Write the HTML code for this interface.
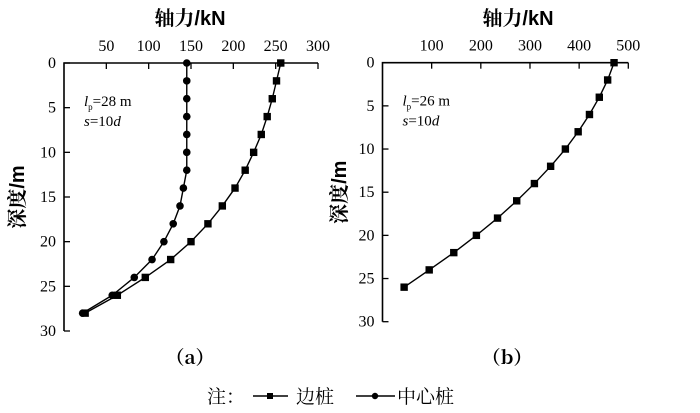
<!DOCTYPE html>
<html><head><meta charset="utf-8">
<style>
html,body{margin:0;padding:0;background:#fff;}
svg text{font-family:"Liberation Serif","Noto Serif CJK SC",serif;fill:#000;}
.cjk{font-family:"Liberation Sans","Noto Serif CJK SC",serif;font-weight:bold;}
.cjkn{font-family:"Noto Serif CJK SC",serif;}
</style></head>
<body>
<svg id="chart" width="700" height="408" viewBox="0 0 700 408" xmlns="http://www.w3.org/2000/svg">
  <g id="pa"></g>
  <g id="pb"></g>
  <text x="190" y="364" font-size="19" text-anchor="middle" class="cjkn" font-weight="bold">（a）</text>
  <text x="507" y="364" font-size="19" text-anchor="middle" class="cjkn" font-weight="bold">（b）</text>
  <g>
    <text x="207" y="403" font-size="19" class="cjkn">注：</text>
    <g>
      <line x1="253" y1="396" x2="288" y2="396" stroke="#000" stroke-width="1.5"/>
      <rect x="267" y="393" width="6" height="6" fill="#000"/>
      <text x="296" y="403" font-size="19" class="cjkn">边桩</text>
    </g>
    <g>
      <line x1="356" y1="396" x2="395" y2="396" stroke="#000" stroke-width="1.5"/>
      <circle cx="375" cy="396" r="3.2" fill="#000"/>
      <text x="397" y="403" font-size="19" class="cjkn">中心桩</text>
    </g>
  </g>
</svg>
<script>
const depthsA = [0,2,4,6,8,10,12,14,16,18,20,22,24,26,28];
const edgeA = [256,251,246,240,233,224,214,202,187,170,150,126,96,63,25];
const centerA = [145,145,145,145,145,145,145,141,137,129,118,104,83,57,22];
const xTicksA = [50,100,150,200,250,300];
const yTicks = [0,5,10,15,20,25,30];
const depthsB = [0,2,4,6,8,10,12,14,16,18,20,22,24,26];
const edgeB = [471,458,441,421,398,372,342,309,273,234,191,145,95,44];
const xTicksB = [100,200,300,400,500];

const NS='http://www.w3.org/2000/svg';
function mk(tag,attrs,parent){const e=document.createElementNS(NS,tag);for(const k in attrs)e.setAttribute(k,attrs[k]);parent.appendChild(e);return e;}

function panel(g,cfg){
  const X=v=>cfg.x0+(v-cfg.xmin)/(cfg.xmax-cfg.xmin)*(cfg.x1-cfg.x0);
  const Y=v=>cfg.y0+v/30*(cfg.y1-cfg.y0);
  const ax=mk('path',{d:`M${cfg.x0},${cfg.y1}V${cfg.y0}H${cfg.x1}`,fill:'none',stroke:'#000','stroke-width':1.6},g);
  
  
  cfg.xt.forEach(t=>{
    const l=mk('line',{x1:X(t),x2:X(t),y1:cfg.y0,y2:cfg.y0+6,stroke:'#000','stroke-width':1.3},g);
    
    
    const tx=mk('text',{x:X(t),y:cfg.y0-12,'font-size':16,'text-anchor':'middle'},g);
    tx.textContent=t;
    
    
  });
  yTicks.forEach(t=>{
    const l=mk('line',{x1:cfg.x0,x2:cfg.x0+6,y1:Y(t),y2:Y(t),stroke:'#000','stroke-width':1.3},g);
    
    
    const tx=mk('text',{x:cfg.x0-8,y:Y(t)+5,'font-size':16,'text-anchor':'end'},g);
    tx.textContent=t;
    
    
  });
  const tt=mk('text',{x:cfg.tx,y:25,'font-size':20,'text-anchor':'middle',class:'cjk'},g);
  tt.textContent='轴力/kN';
  
  
  const yt=mk('text',{x:0,y:0,'font-size':20,'text-anchor':'middle',class:'cjk',transform:`translate(${cfg.yx},${(cfg.y0+cfg.y1)/2}) rotate(-90)`},g);
  yt.textContent='深度/m';
  
  
  const an=mk('text',{x:cfg.x0+20,y:cfg.y0+43,'font-size':15},g);
  an.innerHTML=`<tspan font-style="italic">l</tspan><tspan font-size="9" dy="4">p</tspan><tspan dy="-4">=${cfg.lp} m</tspan>`;
  
  
  const an2=mk('text',{x:cfg.x0+20,y:cfg.y0+63,'font-size':15},g);
  an2.innerHTML='<tspan font-style="italic">s</tspan>=10<tspan font-style="italic">d</tspan>';
  
  
  cfg.series.forEach(s=>{
    const pts=s.vals.map((v,i)=>[X(v),Y(s.depths[i])]);
    const pl=mk('polyline',{points:pts.map(p=>p.join(',')).join(' '),fill:'none',stroke:'#000','stroke-width':1.4},g);
    
    
    pts.forEach(p=>{
      let m;
      if(s.marker==='circle') m=mk('circle',{cx:p[0],cy:p[1],r:3.8,fill:'#000'},g);
      else m=mk('rect',{x:p[0]-3.7,y:p[1]-3.7,width:7.4,height:7.4,fill:'#000'},g);
      
      
    });
  });
}
panel(document.getElementById('pa'),{x0:64,x1:318,xmin:0,xmax:300,y0:63,y1:331,xt:xTicksA,tx:190,yx:24,lp:28,
  series:[{name:'edge-pile-a',vals:edgeA,depths:depthsA,marker:'square'},{name:'center-pile-a',vals:centerA,depths:depthsA,marker:'circle'}]});
panel(document.getElementById('pb'),{x0:382.5,x1:628.3,xmin:0,xmax:500,y0:62.7,y1:321.7,xt:xTicksB,tx:518,yx:346,lp:26,
  series:[{name:'edge-pile-b',vals:edgeB,depths:depthsB,marker:'square'}]});
</script>
</body></html>
